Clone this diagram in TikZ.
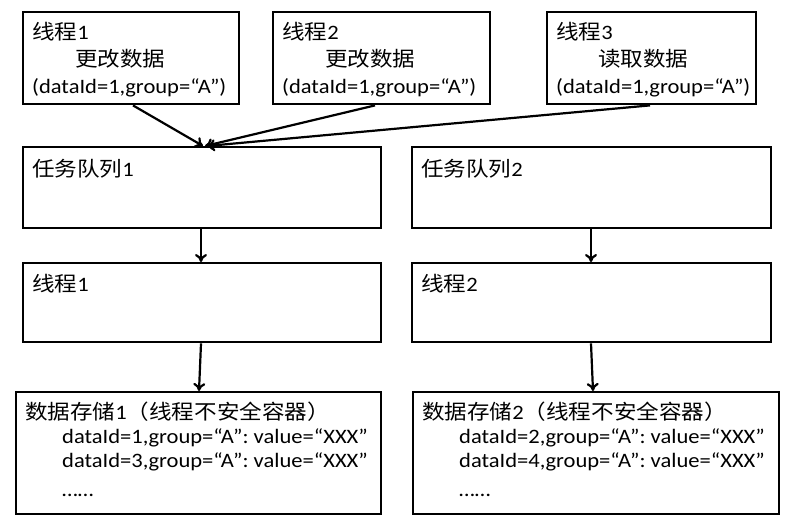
\documentclass[tikz,border=0pt]{standalone}
\usepackage{fontspec}
\setmainfont{Carlito}[FakeStretch=1.1]
\newfontfamily\cjk{Noto Sans CJK SC}[FakeStretch=1.1]
\usetikzlibrary{arrows.meta}

\tikzset{
  box/.style={rectangle, draw=black, line width=2.4pt, anchor=north west, inner sep=0pt},
  txt/.style={anchor=north west, align=left, inner xsep=10pt, inner ysep=11pt, font=\fontsize{20.5}{27}\selectfont},
  arr/.style={-{To[length=8pt,width=12pt]}, line width=2.2pt}
}

\begin{document}
\begin{tikzpicture}[x=1pt,y=-1pt]
\useasboundingbox (0,0) rectangle (800,522);

% threads
\node (thr1) [box, minimum width=216pt, minimum height=92pt] at (22,11) {};
\node (thr1txt) [txt] at (thr1.north west) {{\cjk 线程}1\\\hspace{43pt}{\cjk 更改数据}\\(dataId=1,group=“A”)};
\node (thr2) [box, minimum width=217pt, minimum height=92pt] at (272,11) {};
\node (thr2txt) [txt] at (thr2.north west) {{\cjk 线程}2\\\hspace{43pt}{\cjk 更改数据}\\(dataId=1,group=“A”)};
\node (thr3) [box, minimum width=209pt, minimum height=92pt] at (546,11) {};
\node (thr3txt) [txt] at (thr3.north west) {{\cjk 线程}3\\\hspace{42pt}{\cjk 读取数据}\\(dataId=1,group=“A”)};

% task queues
\node (queue1) [box, minimum width=358pt, minimum height=81pt] at (22,146) {};
\node (queue1txt) [txt, inner ysep=13pt] at (queue1.north west) {{\cjk 任务队列}1};
\node (queue2) [box, minimum width=359pt, minimum height=81pt] at (411,146) {};
\node (queue2txt) [txt, inner ysep=13pt] at (queue2.north west) {{\cjk 任务队列}2};

% workers
\node (worker1) [box, minimum width=358pt, minimum height=79pt] at (22,262) {};
\node (worker1txt) [txt, inner ysep=12pt] at (worker1.north west) {{\cjk 线程}1};
\node (worker2) [box, minimum width=359pt, minimum height=79pt] at (411,262) {};
\node (worker2txt) [txt, inner ysep=12pt] at (worker2.north west) {{\cjk 线程}2};

% stores
\node (store1) [box, minimum width=365pt, minimum height=122pt] at (15,391) {};
\node (store1txt) [txt, font=\fontsize{20.5}{24}\selectfont] at (store1.north west) {{\cjk 数据存储}1{\cjk （线程不安全容器）}\\\hspace{37pt}dataId=1,group=“A”: value=“XXX”\\\hspace{37pt}dataId=3,group=“A”: value=“XXX”\\[5pt]\hspace{37pt}……};
\node (store2) [box, minimum width=366pt, minimum height=122pt] at (412,391) {};
\node (store2txt) [txt, font=\fontsize{20.5}{24}\selectfont] at (store2.north west) {{\cjk 数据存储}2{\cjk （线程不安全容器）}\\\hspace{37pt}dataId=2,group=“A”: value=“XXX”\\\hspace{37pt}dataId=4,group=“A”: value=“XXX”\\[5pt]\hspace{37pt}……};

% arrows
\draw[arr] ([xshift=111pt]thr1.south west) -- ([xshift=181pt]queue1.north west);
\draw[arr] ([xshift=103pt]thr2.south west) -- ([xshift=183pt]queue1.north west);
\draw[arr] ([xshift=104pt]thr3.south west) -- ([xshift=185pt]queue1.north west);
\draw[arr] ([xshift=179pt]queue1.south west) -- ([xshift=179pt]worker1.north west);
\draw[arr] ([xshift=180pt]queue2.south west) -- ([xshift=180pt]worker2.north west);
\draw[arr] ([xshift=179pt]worker1.south west) -- ([xshift=184pt]store1.north west);
\draw[arr] ([xshift=180pt]worker2.south west) -- ([xshift=181pt]store2.north west);

\end{tikzpicture}
\end{document}
